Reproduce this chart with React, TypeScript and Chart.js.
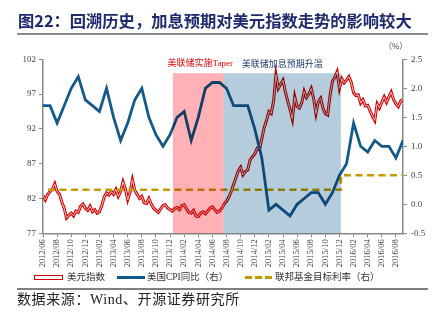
import React, { useEffect, useRef } from 'react';
import { Chart, registerables } from 'chart.js';

Chart.register(...registerables);

// x positions are months since 2012/06 (index 0 = 2012/06)
const xLabels = [
  '2012/06', '2012/08', '2012/10', '2012/12', '2013/02', '2013/04', '2013/06', '2013/08', '2013/10', '2013/12',
  '2014/02', '2014/04', '2014/06', '2014/08', '2014/10', '2014/12', '2015/02', '2015/04', '2015/06', '2015/08',
  '2015/10', '2015/12', '2016/02', '2016/04', '2016/06', '2016/08',
];

// US dollar index, sampled every 1/3 month starting at 2012/06
const dxyStart = 0;
const dxyStep = 1 / 3;
const dxy = [
  82.4, 81.8, 82.6, 83.0, 83.3, 84.1, 83.0, 82.6, 81.5, 80.6, 79.2, 79.6,
  79.9, 79.5, 80.2, 80.0, 80.9, 81.2, 80.6, 80.3, 80.9, 80.1, 80.4, 79.9,
  80.1, 81.0, 82.2, 82.8, 82.5, 83.0, 82.6, 83.3, 82.3, 83.0, 84.4, 83.4,
  81.8, 82.9, 84.7, 83.2, 82.6, 82.0, 82.3, 81.4, 81.3, 82.0, 81.2, 80.6,
  80.3, 80.0, 80.5, 81.0, 81.1, 80.6, 80.4, 80.2, 80.6, 80.7, 80.4, 81.0,
  81.1, 80.5, 80.0, 79.9, 80.3, 79.5, 79.4, 79.9, 80.1, 79.8, 80.2, 80.6,
  80.8, 80.4, 80.0, 80.2, 80.6, 81.2, 81.6, 82.2, 83.0, 84.0, 85.0, 86.0,
  86.5, 85.4, 85.9, 86.1, 87.5, 88.0, 88.4, 89.2, 89.0, 90.6, 92.2, 93.2,
  94.5, 94.2, 96.0, 99.8, 97.8, 98.4, 99.0, 97.3, 96.0, 94.8, 93.4, 96.6,
  95.2, 95.0, 95.8, 97.4, 96.5, 97.0, 97.8, 96.4, 94.2, 95.9, 96.4, 95.0,
  94.2, 94.0, 96.8, 98.8, 99.4, 100.2, 97.8, 99.2, 98.6, 99.0, 99.5, 98.7,
  97.2, 96.8, 96.9, 95.7, 96.2, 95.3, 95.4, 94.6, 93.8, 93.2, 95.6, 95.0,
  95.8, 96.6, 95.8, 96.6, 97.3, 96.2, 95.6, 95.2, 96.0, 96.2,
];

// US CPI YoY (%), monthly, plotted at month end (index 0 = 2012/06)
const cpiStart = 0;
const cpiYoY = [
  1.7, 1.7, 1.4, 1.7, 2.0, 2.2, 1.8, 1.7, 1.6, 2.0, 1.5, 1.1,
  1.4, 1.8, 2.0, 1.5, 1.2, 1.0, 1.2, 1.5, 1.6, 1.1, 1.5, 2.0,
  2.1, 2.1, 2.0, 1.7, 1.7, 1.7, 1.3, 0.8, -0.1, 0.0, -0.1, -0.2,
  0.0, 0.1, 0.2, 0.2, 0.0, 0.2, 0.5, 0.7, 1.4, 1.0, 0.9, 1.1,
  1.0, 1.0, 0.8, 1.1,
];

// Fed funds target rate (%), change points
const fedDates = [0.7, 42.2, 51];
const fedRates = [0.25, 0.5, 0.5];

// shaded periods
const shadeStarts = [18.4, 25.6];
const shadeEnds = [25.6, 42.2];
const shadeTop = 100;
const shadeLabels = ['美联储实施Taper', '美联储加息预期升温'];
const shadeColors = ['#FFB1B6', '#B4CCDB'];
const shadeTextColors = ['#E00000', '#1F3C6E'];

const CJK = '"Noto Sans CJK SC"';
const SERIF = '"Liberation Serif", "Noto Sans CJK SC"';

const shadePlugin = {
  id: 'shade',
  afterDatasetsDraw(chart: any) {
    const { ctx, chartArea } = chart;
    const x = chart.scales.x;
    const y = chart.scales.y;
    const yTop = y.getPixelForValue(shadeTop);
    ctx.save();
    ctx.globalCompositeOperation = 'multiply';
    shadeStarts.forEach((s, i) => {
      const x0 = x.getPixelForValue(s);
      const x1 = x.getPixelForValue(shadeEnds[i]);
      ctx.fillStyle = shadeColors[i];
      ctx.fillRect(x0, yTop, x1 - x0, chartArea.bottom - yTop);
    });
    ctx.restore();
    ctx.save();
    ctx.font = `9px ${SERIF}`;
    ctx.textAlign = 'center';
    ctx.textBaseline = 'middle';
    shadeStarts.forEach((s, i) => {
      const xc = (x.getPixelForValue(s) + x.getPixelForValue(shadeEnds[i])) / 2;
      ctx.fillStyle = shadeTextColors[i];
      ctx.fillText(shadeLabels[i], xc + (i === 0 ? 2 : 0), yTop - 10 + i);
    });
    ctx.restore();
  },
};

export default function App() {
  const ref = useRef<HTMLCanvasElement>(null);

  useEffect(() => {
    const canvas = ref.current;
    if (!canvas) return;
    const dxyPts = dxy.map((v, i) => ({ x: dxyStart + i * dxyStep, y: v }));
    const cpiPts = cpiYoY.map((v, i) => ({ x: cpiStart + i, y: v }));
    const fedPts = fedRates.map((v, i) => ({ x: fedDates[i], y: v }));
    const tickFont = { family: SERIF, size: 9 };
    const chart = new Chart(canvas, {
      type: 'line',
      data: {
        datasets: [
          {
            label: '美元指数',
            data: dxyPts,
            yAxisID: 'y',
            borderColor: '#D00000',
            borderWidth: 3,
            pointRadius: 0,
            tension: 0,
            order: 4,
          },
          {
            label: '美元指数inner',
            data: dxyPts,
            yAxisID: 'y',
            borderColor: '#F6C4C4',
            borderWidth: 1,
            pointRadius: 0,
            tension: 0,
            order: 3,
          },
          {
            label: '联邦基金目标利率（右）',
            data: fedPts,
            yAxisID: 'y1',
            borderColor: '#C49A00',
            borderWidth: 2.6,
            borderDash: [7, 4.5],
            stepped: 'before',
            pointRadius: 0,
            order: 2,
          },
          {
            label: '美国CPI同比（右）',
            data: cpiPts,
            yAxisID: 'y1',
            borderColor: '#135A8B',
            borderWidth: 2.8,
            pointRadius: 0,
            tension: 0,
            order: 1,
          },
        ],
      },
      options: {
        responsive: false,
        animation: false,
        devicePixelRatio: 1,
        layout: { padding: { top: 59.3, bottom: 56.7, left: 0, right: 0 } },
        plugins: { legend: { display: false }, tooltip: { enabled: false } },
        scales: {
          x: {
            type: 'linear',
            min: 0,
            max: 51,
            afterBuildTicks: (s: any) => {
              s.ticks = xLabels.map((_, i) => ({ value: i * 2 }));
            },
            afterFit: (s: any) => {
              s.height = 40;
            },
            ticks: {
              autoSkip: false,
              maxRotation: 90,
              minRotation: 90,
              padding: 2,
              color: '#404040',
              font: { family: SERIF, size: 8.5 },
              callback: (_v: any, i: number) => xLabels[i] ?? '',
            },
            grid: { display: true, drawOnChartArea: false, drawTicks: true, tickLength: 4, color: '#888' },
            border: { display: true, color: '#888', width: 1.5 },
          },
          y: {
            position: 'left',
            min: 77,
            max: 102,
            afterBuildTicks: (s: any) => {
              s.ticks = [77, 82, 87, 92, 97, 102].map((v) => ({ value: v }));
            },
            afterFit: (s: any) => {
              s.width = 43;
            },
            ticks: { color: '#404040', font: tickFont, padding: 3 },
            grid: { display: true, drawOnChartArea: false, drawTicks: true, tickLength: 4, color: '#888' },
            border: { display: true, color: '#888', width: 1.5 },
          },
          y1: {
            position: 'right',
            min: -0.5,
            max: 2.5,
            afterBuildTicks: (s: any) => {
              s.ticks = [-0.5, 0, 0.5, 1, 1.5, 2, 2.5].map((v) => ({ value: v }));
            },
            afterFit: (s: any) => {
              s.width = 43;
            },
            ticks: {
              color: '#404040',
              font: tickFont,
              padding: 4,
              callback: (v: any) => Number(v).toFixed(1),
            },
            grid: { display: true, drawOnChartArea: false, drawTicks: true, tickLength: 4, color: '#888' },
            border: { display: true, color: '#888', width: 1.5 },
          },
        },
      },
      plugins: [shadePlugin],
    } as any);
    return () => chart.destroy();
  }, []);

  const legendText: React.CSSProperties = {
    position: 'absolute',
    top: 271,
    fontFamily: SERIF,
    fontSize: 9.5,
    color: '#333',
    whiteSpace: 'nowrap',
    lineHeight: '12px',
  };

  return (
    <div style={{ position: 'absolute', left: 0, top: 0, width: 446, height: 330, background: '#fff', overflow: 'hidden' }}>
      <canvas ref={ref} width={446} height={330} style={{ position: 'absolute', left: 0, top: 0, width: 446, height: 330 }} />
      <div
        style={{
          position: 'absolute',
          left: 18,
          top: 11.5,
          fontFamily: CJK,
          fontWeight: 700,
          fontSize: 16.3,
          lineHeight: 1,
          color: '#1F2A6E',
          whiteSpace: 'nowrap',
        }}
      >
        图22：回溯历史，加息预期对美元指数走势的影响较大
      </div>
      <div style={{ position: 'absolute', left: 17, top: 33, width: 411, height: 2, background: '#8C8C8C' }} />
      <div style={{ position: 'absolute', left: 384, top: 40, fontFamily: CJK, fontSize: 8, color: '#404040', whiteSpace: 'nowrap' }}>（%）</div>

      {/* legend */}
      <div style={{ position: 'absolute', left: 34, top: 275, width: 27, height: 3, border: '1px solid #D00000', background: '#fff' }} />
      <div style={{ ...legendText, left: 67 }}>美元指数</div>
      <div style={{ position: 'absolute', left: 117, top: 275.5, width: 28, height: 3.5, background: '#135A8B' }} />
      <div style={{ ...legendText, left: 147 }}>美国CPI同比（右）</div>
      <div style={{ position: 'absolute', left: 245, top: 275.5, width: 7, height: 3, background: '#C49A00' }} />
      <div style={{ position: 'absolute', left: 255, top: 275.5, width: 7, height: 3, background: '#C49A00' }} />
      <div style={{ position: 'absolute', left: 265, top: 275.5, width: 7, height: 3, background: '#C49A00' }} />
      <div style={{ ...legendText, left: 275 }}>联邦基金目标利率（右）</div>

      <div style={{ position: 'absolute', left: 17, top: 288, width: 411, height: 1.5, background: '#808080' }} />
      <div
        style={{
          position: 'absolute',
          left: 17,
          top: 292,
          fontFamily: SERIF,
          fontSize: 14,
          lineHeight: '16px',
          letterSpacing: 0.6,
          color: '#222',
          whiteSpace: 'nowrap',
        }}
      >
        数据来源：Wind、开源证券研究所
      </div>
    </div>
  );
}
